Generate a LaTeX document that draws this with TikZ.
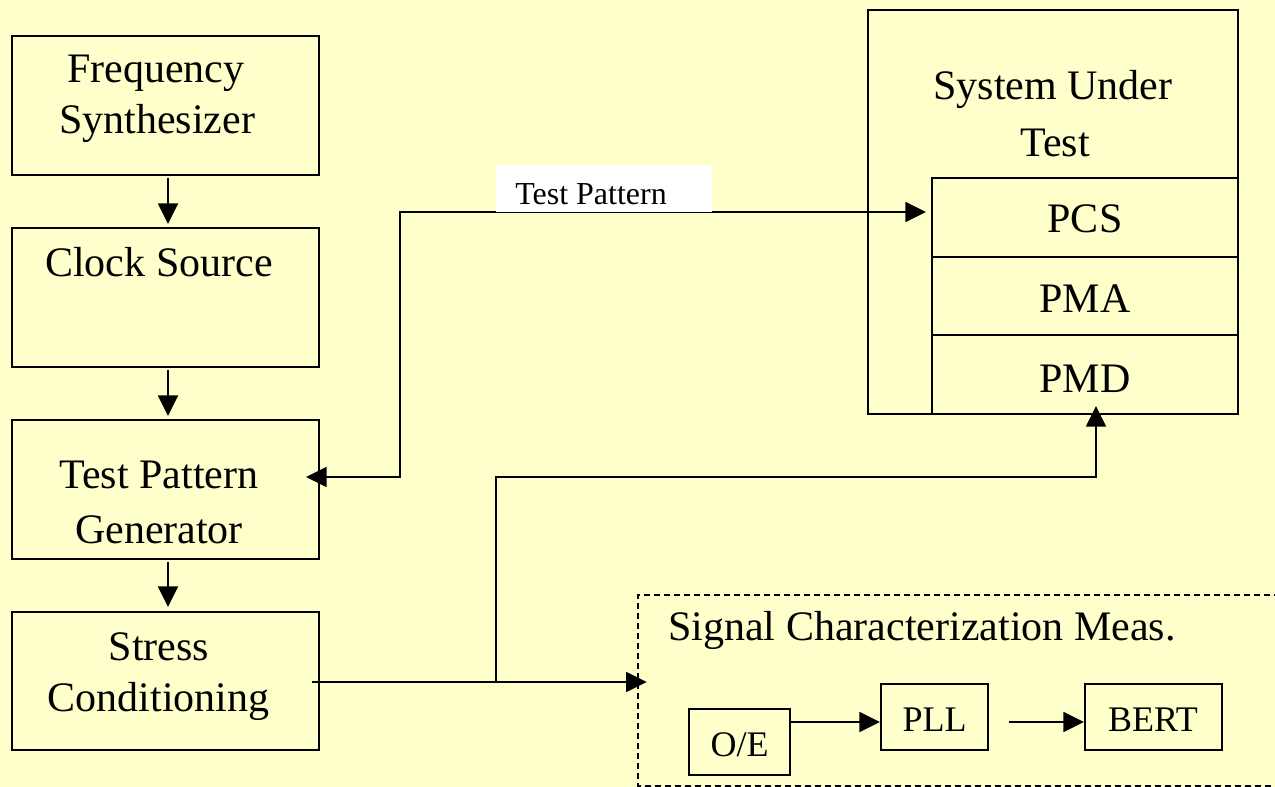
\documentclass[tikz,border=0pt]{standalone}
\usepackage{fontspec}
\setmainfont{Liberation Serif}
\usetikzlibrary{arrows.meta,fit,calc}
\definecolor{paper}{HTML}{FFFFCC}
\begin{document}
\begin{tikzpicture}[x=0.75pt,y=-0.75pt,
  box/.style={draw, line width=1.5pt, inner sep=0pt},
  conn/.style={line width=1.2pt, -{Triangle[length=15.5pt,width=15pt]}},
  twoway/.style={line width=1.2pt, {Triangle[length=15.5pt,width=15pt]}-{Triangle[length=15.5pt,width=15pt]}},
  big/.style={font=\fontsize{31.5}{38}\selectfont, inner sep=0pt, anchor=base},
  mid/.style={font=\fontsize{27}{32}\selectfont, inner sep=0pt, anchor=base},
  small/.style={font=\fontsize{24}{28}\selectfont, inner sep=0pt, anchor=base west}]
\useasboundingbox (0,0) rectangle (1275,787);
\fill[paper] (0,0) rectangle (1275,787);

% left column of blocks
\node[box, fit={(12,36) (319,175)}] (fs) {};
\node[box, fit={(12,228) (319,367)}] (cs) {};
\node[box, fit={(12,420) (319,559)}] (tpg) {};
\node[box, fit={(12,612) (319,750)}] (st) {};
\node[big] (fsA) at (156,83) {Frequency};
\node[big] (fsB) at (157,134) {Synthesizer};
\node[big] (csA) at (159,277) {Clock Source};
\node[big] (tpgA) at (159,489) {Test Pattern};
\node[big] (tpgB) at (159,544) {Generator};
\node[big] (stA) at (159,660) {Stress};
\node[big] (stB) at (158.5,711) {Conditioning};

% system under test with its layers
\node[box, fit={(868,10) (1238,414)}] (sut) {};
\node[box, fit={(932,178) (1238,257)}] (pcs) {};
\node[box, fit={(932,257) (1238,335)}] (pma) {};
\node[box, fit={(932,335) (1238,414)}] (pmd) {};
\node[big] (sutA) at (1053,100) {System Under};
\node[big] (sutB) at (1055,157) {Test};
\node[big] (pcsT) at (1085,233) {PCS};
\node[big] (pmaT) at (1085,313) {PMA};
\node[big] (pmdT) at (1085,393) {PMD};

% measurement group
\node[inner sep=0pt, fit={(638,595) (1275,786)}] (scm) {};
\draw[line width=1.1pt, dash pattern=on 4.5pt off 3pt]
  (1280,595) -- (638,595) -- (638,786) -- (1280,786);
\node[big, anchor=base west] (scmT) at (668,640) {Signal Characterization Meas.};
\node[box, fit={(689,709) (790,775)}] (oe) {};
\node[box, fit={(881,684) (988,750)}] (pll) {};
\node[box, fit={(1085,684) (1222,750)}] (bert) {};
\node[mid] (oeT) at (739.5,756) {O/E};
\node[mid] (pllT) at (934.5,731) {PLL};
\node[mid] (bertT) at (1153,731) {BERT};

% vertical chain
\draw[conn] ($(fs.south)+(2.5,2)$) -- ($(cs.north)+(2.5,-3)$);
\draw[conn] ($(cs.south)+(2.5,2)$) -- ($(tpg.north)+(2.5,-3)$);
\draw[conn] ($(tpg.south)+(2.5,2)$) -- ($(st.north)+(2.5,-4)$);

% test pattern loop between generator and PCS
\coordinate (tpBend) at (400,212);
\draw[twoway] ($(tpg.east)+(-14,-12.5)$) -| (tpBend) -- ($(pcs.west)+(-5,-5.5)$);
\node[fill=white, inner sep=0pt, fit={(496,165) (712,212)}] (tpBox) {};
\node[small] (tpLabel) at (515,205) {Test Pattern};

% stressed signal to the measurement group and to the PMD
\draw[conn] ($(st.east)+(-8,1)$) -- ($(st.east -| scm.west)+(9,1)$);
\coordinate (split) at (496,682);
\coordinate (pmdBend) at (1096,477);
\draw[conn] (split) |- (pmdBend) -- ($(pmd.south)+(11,-9)$);

% measurement chain
\draw[conn] ($(oe.east)+(0,-20)$) -- ($(pll.west)+(0,5)$);
\draw[conn] ($(pll.east)+(20,5)$) -- ($(bert.west)+(0,5)$);
\end{tikzpicture}
\end{document}
